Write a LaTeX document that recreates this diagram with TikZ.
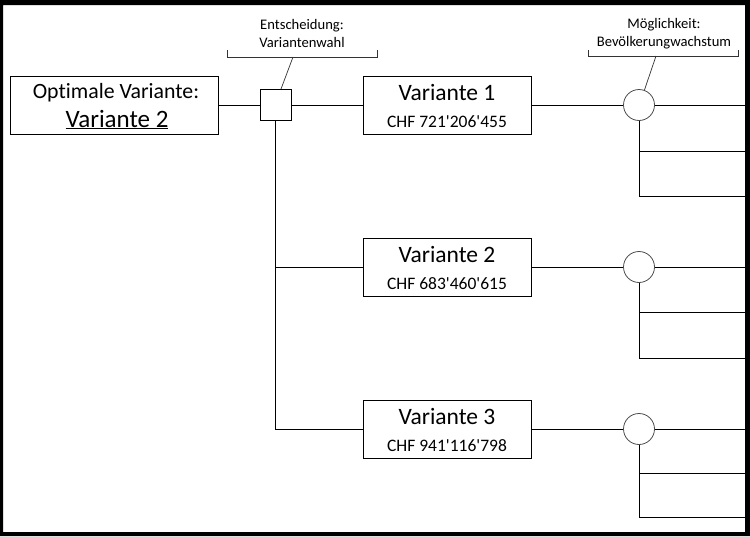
\documentclass[tikz,border=0pt]{standalone}
\usepackage{fontspec}
\setmainfont{Carlito}[Ligatures={TeXOff,CommonOff}]
\usetikzlibrary{calc}
\begin{document}
\begin{tikzpicture}[x=1pt,y=-1pt,
  box/.style={draw, line width=0.9pt, minimum width=168pt, minimum height=58pt, inner sep=0pt},
  decbox/.style={draw, line width=0.9pt, minimum size=31pt, inner sep=0pt},
  chance/.style={circle, draw=black!70, line width=0.8pt, minimum size=31pt, inner sep=0pt},
  conn/.style={line width=0.9pt},
  brk/.style={line width=0.7pt, draw=black!80},
  vtxt/.style={font=\fontsize{23.5}{28}\selectfont, anchor=base, inner sep=0pt},
  opttxt/.style={font=\fontsize{21.8}{26}\selectfont, anchor=base, inner sep=0pt},
  optbig/.style={font=\fontsize{25}{30}\selectfont, anchor=base, inner sep=0pt},
  chftxt/.style={font=\fontsize{17.5}{21}\selectfont, anchor=base, inner sep=0pt},
  lbl/.style={font=\fontsize{14.6}{17}\selectfont, anchor=base, inner sep=0pt}]
\useasboundingbox (0,0) rectangle (750,536);
\fill[white] (0,0) rectangle (750,536);

% optimal box
\node[box, minimum width=208pt] (opt) at (114.8,105) {};
\node[opttxt] (optT) at (116,98) {Optimale Variante:};
\node[optbig] (optV) at (117,127) {\underline{Variante 2}};

% decision node
\node[decbox] (d) at (275.8,105) {};

% variant boxes
\node[box] (v1) at (447,105) {};
\node[vtxt] (v1t) at (447,100) {Variante 1};
\node[chftxt] (v1c) at (447,127) {CHF 721'206'455};
\node[box] (v2) at (447,267) {};
\node[vtxt] (v2t) at (447,262) {Variante 2};
\node[chftxt] (v2c) at (447,289) {CHF 683'460'615};
\node[box] (v3) at (447,429) {};
\node[vtxt] (v3t) at (447,424) {Variante 3};
\node[chftxt] (v3c) at (447,451) {CHF 941'116'798};

% chance nodes
\node[chance] (c1) at (639,105) {};
\node[chance] (c2) at (639,267) {};
\node[chance] (c3) at (639,429) {};

% free ends at right edge
\coordinate (e1a) at (746,105);
\coordinate (e1b) at (746,151);
\coordinate (e1c) at (746,196);
\coordinate (e2a) at (746,267);
\coordinate (e2b) at (746,312);
\coordinate (e2c) at (746,358);
\coordinate (e3a) at (746,429);
\coordinate (e3b) at (746,473);
\coordinate (e3c) at (746,517);

% connectors
\draw[conn] (opt.east) -- (d.west);
\draw[conn] (d.east) -- (v1.west);
\draw[conn] (d.south) |- (v2.west);
\draw[conn] (d.south) |- (v3.west);
\draw[conn] (v1.east) -- (c1.west);
\draw[conn] (v2.east) -- (c2.west);
\draw[conn] (v3.east) -- (c3.west);

\draw[conn] (c1.east) -- (e1a);
\draw[conn] (c1.south) |- (e1c);
\draw[conn] (c1.south |- e1b) -- (e1b);
\draw[conn] (c2.east) -- (e2a);
\draw[conn] (c2.south) |- (e2c);
\draw[conn] (c2.south |- e2b) -- (e2b);
\draw[conn] (c3.east) -- (e3a);
\draw[conn] (c3.south) |- (e3c);
\draw[conn] (c3.south |- e3b) -- (e3b);

% labels
\node[lbl] (l1a) at (302,29) {Entscheidung:};
\node[lbl] (l1b) at (302,47) {Variantenwahl};
\coordinate (b1l) at (227,50);
\coordinate (b1r) at (377,50);
\coordinate (b1m) at (293,57);
\draw[brk] (b1l) -- ++(0,7) -- ($(b1r)+(0,7)$) -- (b1r);
\draw[brk] (b1m) -- ($(d.north)+(5.2,0)$);

\node[lbl] (l2a) at (664,28) {Möglichkeit:};
\node[lbl] (l2b) at (664,46) {Bevölkerungwachstum};
\coordinate (b2l) at (588,50);
\coordinate (b2r) at (738,50);
\coordinate (b2m) at (656,56);
\draw[brk] (b2l) -- ++(0,6) -- ($(b2r)+(0,6)$) -- (b2r);
\draw[brk] (b2m) -- (c1.70);

% black frame
\fill[black, even odd rule] (0,0) rectangle (750,536) (3,5) rectangle (745,532);
\end{tikzpicture}
\end{document}
